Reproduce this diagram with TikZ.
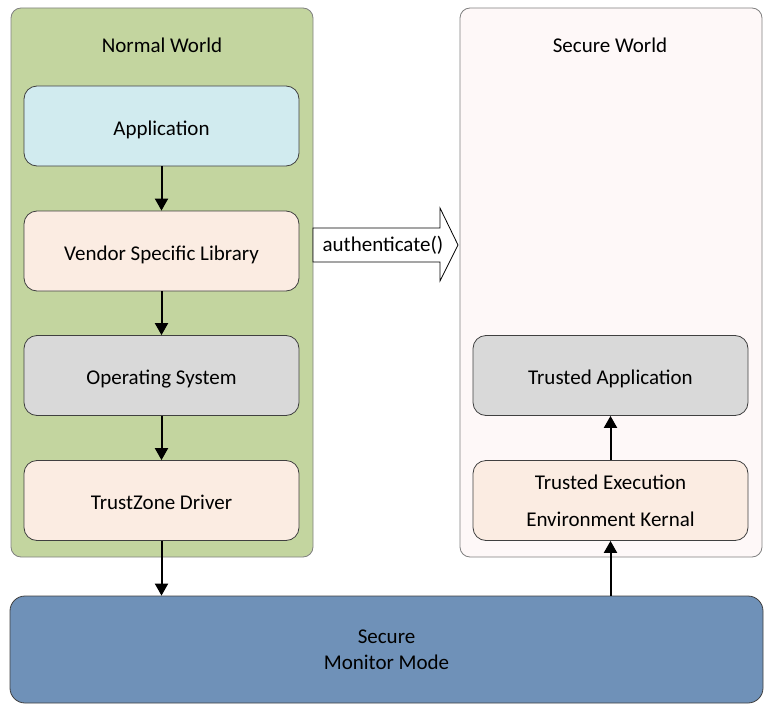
\documentclass[tikz,border=0pt]{standalone}
\usepackage{fontspec}
\setmainfont{Carlito}
\usetikzlibrary{arrows.meta}
\definecolor{nwgreen}{HTML}{C3D59F}
\definecolor{swpink}{HTML}{FEF8F8}
\definecolor{appcyan}{HTML}{D1EBEF}
\definecolor{peach}{HTML}{FBECE2}
\definecolor{osgray}{HTML}{D9D9D9}
\definecolor{monblue}{HTML}{6F91B8}
\definecolor{edgegray}{HTML}{404040}
\definecolor{contgray}{HTML}{808080}
\begin{document}
\begin{tikzpicture}[x=1pt,y=-1pt,
  every node/.style={font=\fontsize{21}{25}\selectfont},
  container/.style={draw=contgray,line width=0.8pt,rounded corners=10pt},
  layerbox/.style={draw=edgegray,line width=0.8pt,rounded corners=13pt,minimum width=275pt,minimum height=80pt,inner sep=0pt,align=center},
  oneline/.style={text height=23pt,text depth=5pt},
  flow/.style={line width=2pt,-{Triangle[width=13pt,length=12pt]}}]
\useasboundingbox (0,0) rectangle (774,717);
% containers
\draw[container,fill=nwgreen] (11,8) rectangle (313,557);
\draw[container,fill=swpink] (460,8) rectangle (762,557);
\node (nwtitle) at (162,45) {Normal World};
\node (swtitle) at (610,45) {Secure World};
% normal world layers
\node[layerbox,oneline,fill=appcyan] (app) at (161.5,126) {Application};
\node[layerbox,oneline,fill=peach] (vsl) at (161.5,251) {Vendor Specific Library};
\node[layerbox,oneline,fill=osgray] (os) at (161.5,375.5) {Operating System};
\node[layerbox,oneline,fill=peach] (tzd) at (161.5,500.5) {TrustZone Driver};
% secure world layers
\node[layerbox,oneline,fill=osgray] (ta) at (610.5,375.5) {Trusted Application};
\node[layerbox,fill=peach,font=\fontsize{21}{37}\selectfont] (tee) at (610.5,500.5) {Trusted Execution\\Environment Kernal};
% monitor
\node[draw=edgegray,line width=0.8pt,rounded corners=15pt,fill=monblue,minimum width=753pt,minimum height=107pt,inner sep=0pt,align=center,font=\fontsize{21}{26}\selectfont] (mon) at (386.5,649.5) {Secure\\Monitor Mode};
% flows
\draw[flow] (app.south) -- (vsl.north);
\draw[flow] (vsl.south) -- (os.north);
\draw[flow] (os.south) -- (tzd.north);
\draw[flow] (tzd.south) -- (tzd.south |- mon.north);
\draw[flow] (mon.north -| tee.south) -- (tee.south);
\draw[flow] (tee.north) -- (ta.south);
% big arrow
\draw[line width=0.8pt,fill=white] (313,228) -- (440,228) -- (440,208) -- (458,245) -- (440,281) -- (440,262) -- (313,262) -- cycle;
\node (auth) at (383,245) {authenticate()};
\end{tikzpicture}
\end{document}
